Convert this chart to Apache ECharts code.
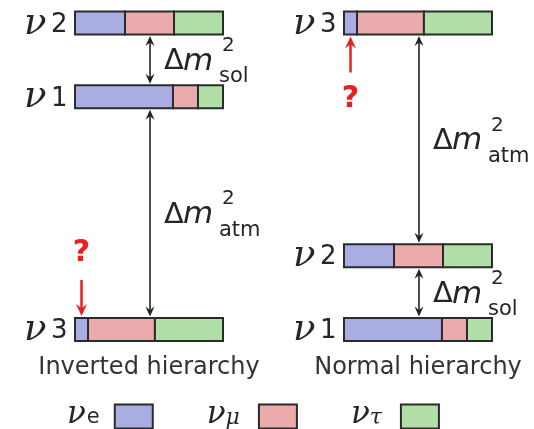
<!DOCTYPE html>
<html>
<head>
<meta charset="utf-8">
<title>Neutrino mass hierarchy</title>
<script src="https://cdn.jsdelivr.net/npm/echarts@6/dist/echarts.min.js"></script>
<style>
  html, body { margin: 0; padding: 0; background: #fff; }
  #chart { width: 534px; height: 429px; }
</style>
</head>
<body>
<div id="chart"></div>
<script>
// Flavour content (|U|^2) of each mass eigenstate, as drawn in the bars.
const flavourNames = ['νe', 'νμ', 'ντ'];
const flavourSubs = ['e', 'μ', 'τ'];
const stateSubs = ['1', '2', '3'];
const nu1Mix = [0.662, 0.169, 0.169];
const nu2Mix = [0.338, 0.331, 0.331];
const nu3Mix = [0.088, 0.452, 0.460];
// Schematic mass levels of ν1, ν2, ν3 (solar splitting = 1 unit).
const invertedLevels = [3.15, 4.15, 0];
const normalLevels = [0, 1, 4.15];
// Splittings drawn as arrows: [upper state, lower state, label subscript].
const invertedSplits = [[1, 0, 'sol'], [0, 2, 'atm']];
const normalSplits = [[2, 1, 'atm'], [1, 0, 'sol']];
const hierarchyTitles = ['Inverted hierarchy', 'Normal hierarchy'];

const stateMix = [nu1Mix, nu2Mix, nu3Mix];
const COLORS = ['#aaade1', '#ebaaac', '#b1dfa8'];
const EDGE = '#2b2b2b';
const RED = '#e8201e';
const INK = '#262626';
const BAR_H = 23;
const SANS = '"DejaVu Sans", sans-serif';
const SERIF = '"DejaVu Serif", serif';

const chart = echarts.init(document.getElementById('chart'), null, { renderer: 'canvas' });

function segmentData(levels, f) {
  return stateMix.map((mix, s) => {
    let start = 0;
    for (let k = 0; k < f; k++) start += mix[k];
    return [start, start + mix[f], levels[s]];
  });
}

function renderSegment(params, api) {
  const a = api.coord([api.value(0), api.value(2)]);
  const b = api.coord([api.value(1), api.value(2)]);
  return {
    type: 'rect',
    shape: { x: a[0], y: a[1] - BAR_H / 2, width: b[0] - a[0], height: BAR_H },
    style: { fill: api.visual('color'), stroke: EDGE, lineWidth: 2 }
  };
}

function renderStateLabel(params, api) {
  const p = api.coord([0, api.value(1)]);
  const x0 = p[0] - 51;
  return {
    type: 'group',
    children: [
      { type: 'text', style: { text: 'ν', x: x0, y: p[1] + 1, fill: INK,
          font: 'italic 37px ' + SERIF, align: 'left', verticalAlign: 'middle' } },
      { type: 'text', style: { text: stateSubs[api.value(2)], x: x0 + 27, y: p[1] + 2, fill: INK,
          font: '26px ' + SANS, align: 'left', verticalAlign: 'middle' } }
    ]
  };
}

function head(x, y, dir, w, len, color) {
  // dir = 1: tip points down; dir = -1: tip points up
  return {
    type: 'polygon',
    shape: { points: [[x, y], [x - w / 2, y - dir * len], [x, y - dir * len * 0.65], [x + w / 2, y - dir * len]] },
    style: { fill: color }
  };
}

function renderSplit(params, api) {
  const top = api.coord([0.5, api.value(0)]);
  const bot = api.coord([0.5, api.value(1)]);
  const x = top[0] + 1;
  const y1 = top[1] + BAR_H / 2 + 1.5;
  const y2 = bot[1] - BAR_H / 2 - 1.5;
  const ym = (y1 + y2) / 2 + 1;
  const tx = x + 15;
  const sub = api.value(2);
  return {
    type: 'group',
    children: [
      { type: 'line', shape: { x1: x, y1: y1 + 4, x2: x, y2: y2 - 4 }, style: { stroke: '#222', lineWidth: 1.6 } },
      head(x, y1, -1, 9, 10, '#222'),
      head(x, y2, 1, 9, 10, '#222'),
      { type: 'text', style: { text: 'Δ', x: tx - 1, y: ym + 1, fill: INK,
          font: '29px ' + SANS, align: 'left', verticalAlign: 'middle' } },
      { type: 'text', style: { text: 'm', x: tx + 18, y: ym + 1, fill: INK,
          font: 'italic 31px ' + SANS, align: 'left', verticalAlign: 'middle' } },
      { type: 'text', style: { text: '2', x: tx + 57, y: ym - 15, fill: INK,
          font: '20px ' + SANS, align: 'left', verticalAlign: 'middle' } },
      { type: 'text', style: { text: sub, x: tx + 54, y: ym + 16, fill: INK,
          font: '21px ' + SANS, align: 'left', verticalAlign: 'middle' } }
    ]
  };
}

function renderQuestion(params, api) {
  const p = api.coord([api.value(0), api.value(1)]);
  const dir = api.value(2); // 1: marker above the bar, -1: below
  const x = p[0];
  const tipY = p[1] - dir * (BAR_H / 2 + 2);
  const tailY = tipY - dir * 36;
  return {
    type: 'group',
    children: [
      { type: 'line', shape: { x1: x, y1: tipY - dir * 6, x2: x, y2: tailY }, style: { stroke: RED, lineWidth: 2.5 } },
      head(x, tipY, dir, 11, 12, RED),
      { type: 'text', style: { text: '?', x: x, y: tailY - dir * 27, fill: RED,
          font: 'bold 30px ' + SANS, align: 'center', verticalAlign: 'middle' } }
    ]
  };
}

function panelSeries(levels, splits, gridIdx, markerDir) {
  const out = [];
  flavourNames.forEach((name, f) => {
    out.push({
      type: 'custom', name: name, xAxisIndex: gridIdx, yAxisIndex: gridIdx,
      itemStyle: { color: COLORS[f] },
      renderItem: renderSegment,
      data: segmentData(levels, f),
      silent: true, z: 2
    });
  });
  out.push({
    type: 'custom', xAxisIndex: gridIdx, yAxisIndex: gridIdx, silent: true,
    renderItem: renderStateLabel,
    data: levels.map((lv, s) => [0, lv, s])
  });
  out.push({
    type: 'custom', xAxisIndex: gridIdx, yAxisIndex: gridIdx, silent: true,
    renderItem: renderSplit,
    dimensions: ['top', 'bottom', { name: 'sub', type: 'ordinal' }],
    data: splits.map(s => [levels[s[0]], levels[s[1]], s[2]])
  });
  out.push({
    type: 'custom', xAxisIndex: gridIdx, yAxisIndex: gridIdx, silent: true,
    renderItem: renderQuestion,
    data: [[nu3Mix[0] / 2, levels[2], markerDir]]
  });
  return out;
}

const axisCommon = { axisLine: { show: false }, axisTick: { show: false }, axisLabel: { show: false }, splitLine: { show: false } };

const option = {
  animation: false,
  backgroundColor: '#fff',
  grid: [
    { left: 75, width: 148, top: 23, height: 306.5 },
    { left: 344, width: 148, top: 23, height: 306.5 }
  ],
  xAxis: [0, 1].map(i => Object.assign({
    type: 'value', gridIndex: i, min: 0, max: 1,
    name: hierarchyTitles[i], nameLocation: 'middle', nameGap: 26,
    nameTextStyle: { fontSize: 24, color: '#333', fontFamily: SANS }
  }, axisCommon)),
  yAxis: [0, 1].map(i => Object.assign({
    type: 'value', gridIndex: i, min: 0, max: 4.15
  }, axisCommon)),
  legend: {
    data: flavourNames,
    left: 67, top: 399, padding: 0,
    align: 'right', icon: 'rect',
    itemWidth: 38, itemHeight: 24, itemGap: 53,
    selectedMode: false,
    itemStyle: { borderColor: EDGE, borderWidth: 2 },
    formatter: name => {
      const f = flavourNames.indexOf(name);
      return '{nu|ν}{sub' + f + '|' + flavourSubs[f] + '}';
    },
    textStyle: {
      rich: {
        nu: { fontFamily: SERIF, fontStyle: 'italic', fontSize: 31, color: INK,
              lineHeight: 24, verticalAlign: 'middle', padding: [0, 0, 4, 0] },
        sub0: { fontFamily: SANS, fontSize: 21, color: INK, lineHeight: 24, verticalAlign: 'middle', padding: [3, 10, 0, 1] },
        sub1: { fontFamily: SERIF, fontStyle: 'italic', fontSize: 22, color: INK, lineHeight: 24, verticalAlign: 'middle', padding: [3, 14, 0, 0] },
        sub2: { fontFamily: SERIF, fontStyle: 'italic', fontSize: 22, color: INK, lineHeight: 24, verticalAlign: 'middle', padding: [3, 14, 0, 0] }
      }
    }
  },
  series: [].concat(
    panelSeries(invertedLevels, invertedSplits, 0, 1),
    panelSeries(normalLevels, normalSplits, 1, -1)
  )
};

chart.setOption(option);
</script>
</body>
</html>
